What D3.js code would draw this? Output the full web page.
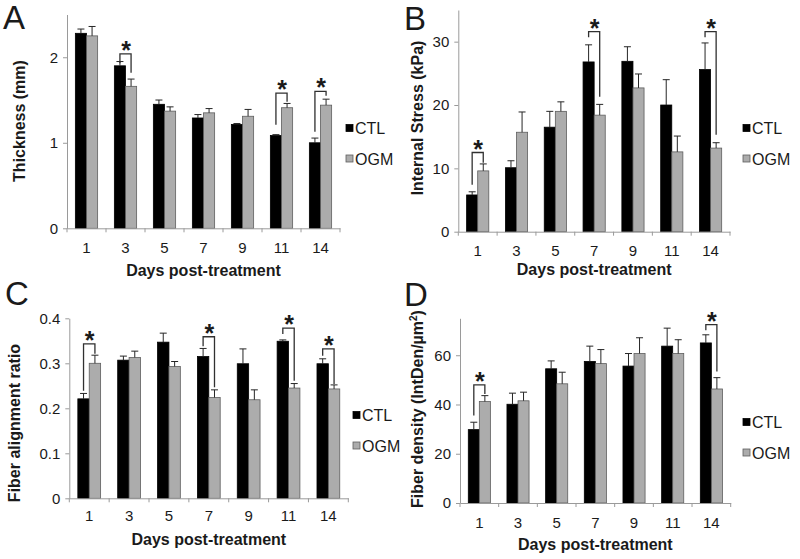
<!DOCTYPE html>
<html><head><meta charset="utf-8">
<script src="https://cdn.jsdelivr.net/npm/d3@7"></script>
<style>
body{margin:0;background:#fff}
svg{display:block}
text{font-family:"Liberation Sans",Arial,Helvetica,sans-serif;fill:#1a1a1a}
</style>
</head><body>
<svg id="chart" width="800" height="559"></svg>
<script>
// ---------- data ----------
const days = ["1","3","5","7","9","11","14"];
const seriesNames = ["CTL","OGM"];
const xTitle = "Days post-treatment";

// Panel A: Thickness (mm)
const thicknessCTL    = [2.28, 1.90, 1.45, 1.29, 1.215, 1.085, 1.00];
const thicknessCTLErr = [0.05, 0.05, 0.05, 0.04, 0.01, 0.01, 0.055];
const thicknessOGM    = [2.25, 1.66, 1.37, 1.35, 1.31, 1.41, 1.44];
const thicknessOGMErr = [0.11, 0.085, 0.05, 0.05, 0.08, 0.05, 0.07];
const thicknessTicks  = [0, 1, 2];
const thicknessSig    = [ // day, bracket top, left leg end, right leg end
  ["3", 2.04, 1.93, 1.82], ["11", 1.58, 1.21, 1.48], ["14", 1.60, 1.13, 1.55]];

// Panel B: Internal Stress (kPa)
const stressCTL    = [5.8, 10.1, 16.5, 26.8, 26.9, 20.0, 25.6];
const stressCTLErr = [0.5, 1.1, 2.5, 2.7, 2.3, 4.0, 4.2];
const stressOGM    = [9.6, 15.7, 19.0, 18.4, 22.7, 12.6, 13.2];
const stressOGMErr = [1.1, 3.2, 1.5, 1.7, 2.2, 2.5, 0.85];
const stressTicks  = [0, 10, 20, 30];
const stressSig    = [["1", 12.5, 7.4, 10.9], ["7", 31.6, 30.7, 21.3], ["14", 31.6, 30.7, 15.3]];

// Panel C: Fiber alignment ratio
const alignCTL    = [0.221, 0.307, 0.347, 0.315, 0.299, 0.349, 0.299];
const alignCTLErr = [0.012, 0.009, 0.020, 0.018, 0.033, 0.003, 0.011];
const alignOGM    = [0.300, 0.313, 0.293, 0.224, 0.219, 0.245, 0.243];
const alignOGMErr = [0.018, 0.014, 0.011, 0.017, 0.022, 0.010, 0.009];
const alignTicks  = [0, 0.1, 0.2, 0.3, 0.4];
const alignSig    = [["1", 0.343, 0.239, 0.321], ["7", 0.359, 0.338, 0.247],
                     ["11", 0.378, 0.365, 0.261], ["14", 0.332, 0.317, 0.254]];

// Panel D: Fiber density (IntDen/µm²)
const densityCTL    = [29.8, 40.1, 54.5, 57.5, 55.6, 63.7, 65.0];
const densityCTLErr = [3.0, 4.5, 3.2, 6.2, 5.1, 7.3, 3.3];
const densityOGM    = [41.2, 41.5, 48.4, 56.6, 60.7, 60.7, 46.3];
const densityOGMErr = [2.4, 3.5, 4.7, 5.7, 6.4, 5.6, 4.6];
const densityTicks  = [0, 20, 40, 60];
const densitySig    = [["1", 48.0, 35.5, 44.3], ["14", 72.4, 70.1, 53.4]];

// ---------- drawing ----------
const svg = d3.select("#chart");
const colors = {CTL: "#000000", OGM: "#acacac"};
const strokes = {CTL: "#000000", OGM: "#5e5e5e"};
const axisColor = "#9a9a9a";

function drawPanel(cfg) {
  const g = svg.append("g");
  const x0 = d3.scaleBand().domain(days).range([cfg.left, cfg.right]).padding(0);
  const x1 = d3.scaleBand().domain(seriesNames).range([0, x0.bandwidth()]).paddingInner(0).paddingOuter(0.75);
  const y = d3.scaleLinear().domain([0, cfg.yMax]).range([cfg.bottom, cfg.top]);

  // bars
  const rows = days.map((d, i) => ({day: d, vals: [
    {s: "CTL", v: cfg.ctl[i], e: cfg.ctlErr[i]},
    {s: "OGM", v: cfg.ogm[i], e: cfg.ogmErr[i]}]}));
  const grp = g.selectAll("g.cat").data(rows).join("g")
    .attr("transform", d => `translate(${x0(d.day)},0)`);
  grp.selectAll("rect").data(d => d.vals).join("rect")
    .attr("x", d => x1(d.s)).attr("width", x1.bandwidth())
    .attr("y", d => y(d.v)).attr("height", d => y(0) - y(d.v))
    .attr("fill", d => colors[d.s]).attr("stroke", d => strokes[d.s]).attr("stroke-width", 0.8);
  // error bars (positive only)
  const eb = grp.selectAll("g.err").data(d => d.vals).join("g")
    .attr("stroke", "#262626").attr("stroke-width", 1);
  eb.append("line")
    .attr("x1", d => x1(d.s) + x1.bandwidth() / 2).attr("x2", d => x1(d.s) + x1.bandwidth() / 2)
    .attr("y1", d => y(d.v)).attr("y2", d => y(d.v + d.e));
  eb.append("line")
    .attr("x1", d => x1(d.s) + x1.bandwidth() / 2 - 3.5).attr("x2", d => x1(d.s) + x1.bandwidth() / 2 + 3.5)
    .attr("y1", d => y(d.v + d.e)).attr("y2", d => y(d.v + d.e));

  // y axis
  const ya = g.append("g").attr("transform", `translate(${cfg.left},0)`)
    .call(d3.axisLeft(y).tickValues(cfg.ticks).tickSize(4).tickSizeOuter(0).tickPadding(cfg.yPad)
      .tickFormat(d => String(d)));
  ya.select(".domain").attr("stroke", axisColor);
  ya.selectAll(".tick line").attr("stroke", axisColor);
  ya.selectAll(".tick text").attr("font-size", 15).attr("fill", "#1a1a1a").attr("font-family", null);

  // x axis
  const xa = g.append("g").attr("transform", `translate(0,${cfg.bottom})`)
    .call(d3.axisBottom(x0).tickSize(0).tickSizeOuter(0).tickPadding(cfg.xPad));
  xa.select(".domain").attr("stroke", axisColor);
  xa.selectAll(".tick text").attr("font-size", 15).attr("fill", "#1a1a1a").attr("font-family", null);
  const bounds = days.map(d => x0(d)).concat([x0(days[days.length - 1]) + x0.bandwidth()]);
  xa.selectAll("line.sep").data(bounds).join("line").attr("class", "sep")
    .attr("x1", d => d).attr("x2", d => d).attr("y1", 0).attr("y2", 4).attr("stroke", axisColor);

  // significance brackets
  cfg.sig.forEach(([day, top, lb, rb]) => {
    const cl = x0(day) + x1("CTL") + x1.bandwidth() / 2;
    const cr = x0(day) + x1("OGM") + x1.bandwidth() / 2;
    g.append("path")
      .attr("d", `M${cl},${y(lb)}V${y(top)}H${cr}V${y(rb)}`)
      .attr("fill", "none").attr("stroke", "#303030").attr("stroke-width", 1.3);
    g.append("text").attr("x", (cl + cr) / 2 + 0.5).attr("y", y(top) + 5)
      .attr("text-anchor", "middle").attr("font-size", 25).attr("font-weight", "bold").text("*");
  });

  // legend
  seriesNames.forEach((s, i) => {
    const ly = cfg.legY + i * 30.5;
    g.append("rect").attr("x", cfg.legX).attr("y", ly - 9.5).attr("width", 7).attr("height", 7)
      .attr("fill", colors[s]).attr("stroke", strokes[s]).attr("stroke-width", 0.8);
    g.append("text").attr("x", cfg.legX + 9).attr("y", ly).attr("font-size", 16).text(s);
  });

  // axis titles
  g.append("text").attr("x", (cfg.left + cfg.right) / 2).attr("y", cfg.xTitleY)
    .attr("text-anchor", "middle").attr("font-size", 16).attr("font-weight", "bold").text(xTitle);
  const yt = g.append("text")
    .attr("transform", `translate(${cfg.yTitleX},${cfg.yTitleCY}) rotate(-90)`)
    .attr("text-anchor", "middle").attr("font-size", 16).attr("font-weight", "bold");
  if (cfg.yTitleSup) {
    yt.append("tspan").text(cfg.yTitle);
    yt.append("tspan").attr("dy", -6).attr("font-size", 10).text(cfg.yTitleSup);
    yt.append("tspan").attr("dy", 6).text(cfg.yTitleEnd);
  } else {
    yt.text(cfg.yTitle);
  }
  // panel letter
  g.append("text").attr("x", cfg.letterX).attr("y", cfg.letterY).attr("font-size", 33).text(cfg.letter);
}

drawPanel({letter: "A", letterX: 3, letterY: 29,
  left: 67, right: 340, top: 14.5, bottom: 228.3, yMax: 2.5, yPad: 5, xPad: 14,
  ctl: thicknessCTL, ctlErr: thicknessCTLErr, ogm: thicknessOGM, ogmErr: thicknessOGMErr,
  ticks: thicknessTicks, sig: thicknessSig, legX: 346, legY: 134,
  xTitleY: 276, yTitleX: 25, yTitleCY: 121, yTitle: "Thickness (mm)"});

drawPanel({letter: "B", letterX: 404, letterY: 30,
  left: 458.3, right: 730, top: 10, bottom: 231.7, yMax: 35, yPad: 5, xPad: 14,
  ctl: stressCTL, ctlErr: stressCTLErr, ogm: stressOGM, ogmErr: stressOGMErr,
  ticks: stressTicks, sig: stressSig, legX: 743, legY: 134,
  xTitleY: 275, yTitleX: 423, yTitleCY: 118, yTitle: "Internal Stress (kPa)"});

drawPanel({letter: "C", letterX: 5, letterY: 305,
  left: 69.3, right: 348.3, top: 318.3, bottom: 498.3, yMax: 0.4, yPad: 5, xPad: 12,
  ctl: alignCTL, ctlErr: alignCTLErr, ogm: alignOGM, ogmErr: alignOGMErr,
  ticks: alignTicks, sig: alignSig, legX: 353, legY: 421,
  xTitleY: 545, yTitleX: 20, yTitleCY: 423, yTitle: "Fiber alignment ratio"});

drawPanel({letter: "D", letterX: 404, letterY: 306,
  left: 460, right: 730.7, top: 318.3, bottom: 503, yMax: 75, yPad: 5, xPad: 14,
  ctl: densityCTL, ctlErr: densityCTLErr, ogm: densityOGM, ogmErr: densityOGMErr,
  ticks: densityTicks, sig: densitySig, legX: 743, legY: 428,
  xTitleY: 550, yTitleX: 423, yTitleCY: 409, yTitle: "Fiber density (IntDen/µm", yTitleSup: "2", yTitleEnd: ")"});
</script>
</body></html>
